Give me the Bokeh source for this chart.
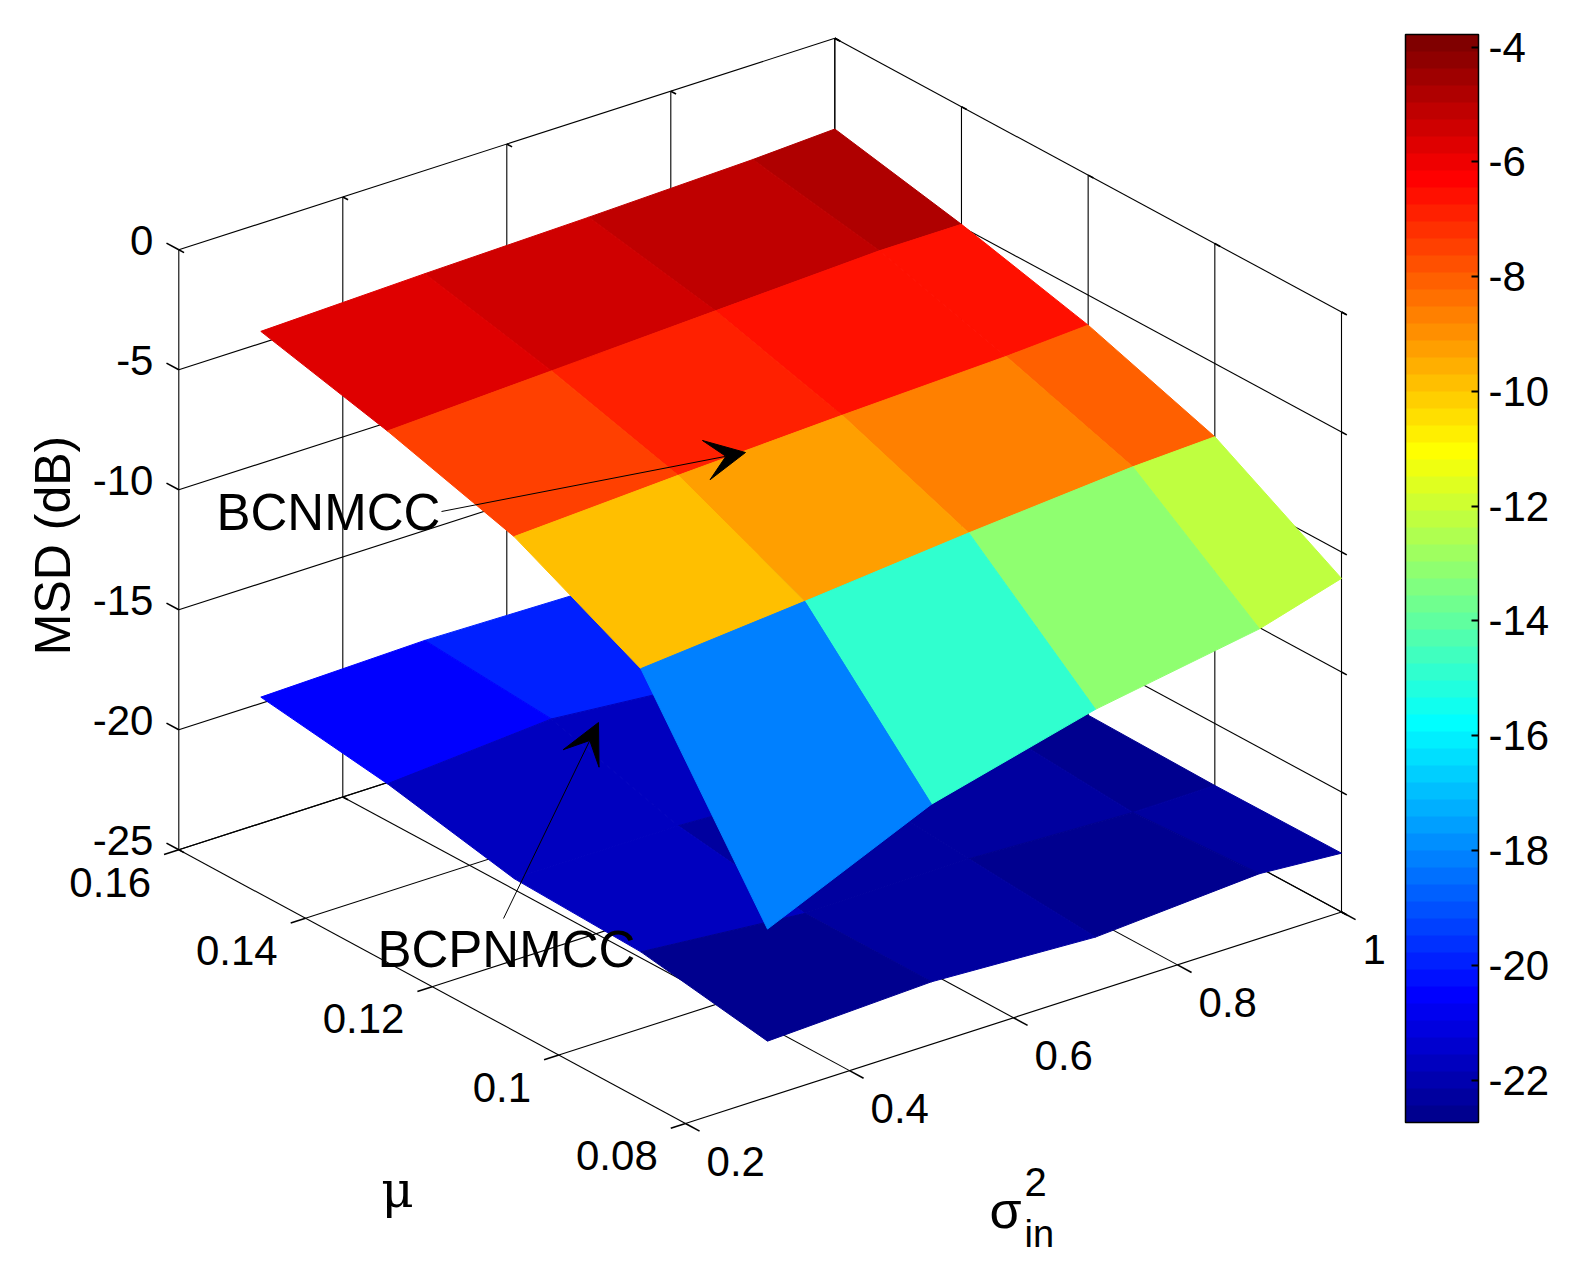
import numpy as np
from bokeh.plotting import figure
from bokeh.models import (Range1d, LinearColorMapper, ColorBar, FixedTicker,
                          Arrow, VeeHead, ColumnDataSource)
from bokeh.embed import file_html
from bokeh.resources import INLINE
from bokeh.core.properties import value

# ---------------- data ----------------
mu_values = [0.08, 0.10, 0.12, 0.14, 0.16]
sigma2_values = [0.3, 0.5, 0.7, 0.9, 1.0]

# rows: mu_values, columns: sigma2_values  (MSD in dB)
msd_bcnmcc = [
    [-18.0, -15.0, -13.25, -12.1, -11.1],
    [-10.0, -9.4, -8.75, -8.2, -8.05],
    [-7.35, -7.0, -6.7, -6.45, -6.25],
    [-5.8, -5.5, -5.2, -4.9, -4.9],
    [-4.5, -4.3, -4.15, -3.95, -3.78],
]
msd_bcpnmcc = [
    [-22.67, -22.4, -22.74, -22.3, -22.55],
    [-21.8, -22.4, -22.33, -22.6, -22.58],
    [-21.6, -21.6, -21.9, -22.2, -22.5],
    [-20.5, -20.0, -20.6, -21.3, -21.9],
    [-19.74, -19.58, -19.7, -20.5, -21.2],
]

mu_ticks = [0.08, 0.10, 0.12, 0.14, 0.16]
mu_tick_labels = ["0.08", "0.1", "0.12", "0.14", "0.16"]
sigma2_ticks = [0.2, 0.4, 0.6, 0.8, 1.0]
sigma2_tick_labels = ["0.2", "0.4", "0.6", "0.8", "1"]
msd_ticks = [-25, -20, -15, -10, -5, 0]
msd_tick_labels = ["-25", "-20", "-15", "-10", "-5", "0"]
colorbar_ticks = [-22, -20, -18, -16, -14, -12, -10, -8, -6, -4]
colorbar_tick_labels = ["-22", "-20", "-18", "-16", "-14", "-12", "-10", "-8", "-6", "-4"]

MU_LIM = (0.08, 0.16)
SG_LIM = (0.2, 1.0)
Z_LIM = (-25.0, 0.0)

# ---------------- view (3D -> 2D projection, screen pixels) ----------------
O = np.array([685.0, 1123.0])        # (mu=0.08, sigma=0.2, z=-25)
V_MU = np.array([-506.7, -273.7])    # full mu span
V_SG = np.array([656.0, -211.5])     # full sigma span
V_Z = np.array([0.0, -600.0])        # full z span


def proj(mu, sg, z):
    a = (np.asarray(mu, float) - MU_LIM[0]) / (MU_LIM[1] - MU_LIM[0])
    b = (np.asarray(sg, float) - SG_LIM[0]) / (SG_LIM[1] - SG_LIM[0])
    c = (np.asarray(z, float) - Z_LIM[0]) / (Z_LIM[1] - Z_LIM[0])
    x = O[0] + a * V_MU[0] + b * V_SG[0] + c * V_Z[0]
    y = O[1] + a * V_MU[1] + b * V_SG[1] + c * V_Z[1]
    return x, y


U_MU = V_MU / np.linalg.norm(V_MU)
U_SG = V_SG / np.linalg.norm(V_SG)


def jet(m):
    n = int(np.ceil(m / 4))
    u = np.concatenate([np.arange(1, n + 1) / n, np.ones(n - 1), np.arange(n, 0, -1) / n])
    g = int(np.ceil(n / 2)) - (1 if m % 4 == 1 else 0) + np.arange(1, len(u) + 1)
    r = g + n
    b = g - n
    J = np.zeros((m, 3))
    for arr, col in ((r, 0), (g, 1), (b, 2)):
        mask = (arr >= 1) & (arr <= m)
        J[arr[mask] - 1, col] = u[mask]
    return ["#%02x%02x%02x" % tuple(int(round(v * 255)) for v in row) for row in J]


FONT = value("Liberation Sans")

p = figure(width=1558, height=1257, x_range=Range1d(0, 1558), y_range=Range1d(1257, 0),
           x_axis_type=None, y_axis_type=None, toolbar_location=None,
           output_backend="svg", min_border=0)
p.outline_line_color = None
p.background_fill_color = "white"
p.border_fill_color = "white"

# ---------------- back walls, floor grid, axes ----------------
gx, gy = [], []


def seg(p0, p1):
    x, y = proj([p0[0], p1[0]], [p0[1], p1[1]], [p0[2], p1[2]])
    gx.append(list(x))
    gy.append(list(y))


for s in sigma2_ticks:   # wall mu = 0.16 (verticals) and floor lines
    seg((MU_LIM[1], s, Z_LIM[0]), (MU_LIM[1], s, Z_LIM[1]))
    seg((MU_LIM[1], s, Z_LIM[0]), (MU_LIM[0], s, Z_LIM[0]))
for m in mu_ticks:       # wall sigma = 1 (verticals) and floor lines
    seg((m, SG_LIM[1], Z_LIM[0]), (m, SG_LIM[1], Z_LIM[1]))
    seg((m, SG_LIM[0], Z_LIM[0]), (m, SG_LIM[1], Z_LIM[0]))
for zt in msd_ticks:     # horizontal lines on both back walls
    seg((MU_LIM[1], SG_LIM[0], zt), (MU_LIM[1], SG_LIM[1], zt))
    seg((MU_LIM[1], SG_LIM[1], zt), (MU_LIM[0], SG_LIM[1], zt))
p.multi_line(gx, gy, line_color="black", line_width=1.1)

# ---------------- ticks ----------------
tx, ty = [], []


def tick(mu, sg, z, direction, length):
    x, y = proj(mu, sg, z)
    ex, ey = x + direction[0] * length, y + direction[1] * length
    tx.append([float(x), float(ex)])
    ty.append([float(y), float(ey)])
    return float(ex), float(ey)


z_lab = [tick(MU_LIM[1], SG_LIM[0], zt, U_MU, 14) for zt in msd_ticks]
mu_lab = [tick(m, SG_LIM[0], Z_LIM[0], -U_SG, 15.5) for m in mu_ticks]
sg_lab = [tick(MU_LIM[0], s, Z_LIM[0], -U_MU, 16) for s in sigma2_ticks]
# small mirrored ticks on the back box edges
for zt in msd_ticks:
    tick(MU_LIM[0], SG_LIM[1], zt, -U_MU, 6)
    tick(MU_LIM[1], SG_LIM[1], zt, -U_MU, 6)
for s in sigma2_ticks:
    tick(MU_LIM[1], s, Z_LIM[1], -U_MU, 6)
    tick(MU_LIM[1], s, Z_LIM[0], -U_MU, 6)
for m in mu_ticks:
    tick(m, SG_LIM[1], Z_LIM[1], -U_MU, 6)
    tick(m, SG_LIM[1], Z_LIM[0], -U_MU, 6)
p.multi_line(tx, ty, line_color="black", line_width=1.6)

# ---------------- surfaces ----------------
all_z = np.array(msd_bcnmcc + msd_bcpnmcc, float)
mapper = LinearColorMapper(palette=jet(64), low=float(all_z.min()), high=float(all_z.max()))

for Z in (msd_bcpnmcc, msd_bcnmcc):      # lower surface first, upper surface on top
    Z = np.array(Z, float)
    faces = []
    for i in range(len(mu_values) - 1):
        for j in range(len(sigma2_values) - 1):
            ms = [mu_values[i], mu_values[i], mu_values[i + 1], mu_values[i + 1]]
            ss = [sigma2_values[j], sigma2_values[j + 1], sigma2_values[j + 1], sigma2_values[j]]
            zs = [Z[i, j], Z[i, j + 1], Z[i + 1, j + 1], Z[i + 1, j]]
            x, y = proj(ms, ss, zs)
            _, depth = proj(np.mean(ms), np.mean(ss), Z_LIM[0])
            faces.append((float(depth), list(x), list(y), float(Z[i, j])))
    faces.sort(key=lambda f: f[0])
    src = ColumnDataSource(dict(xs=[f[1] for f in faces], ys=[f[2] for f in faces],
                                c=[f[3] for f in faces]))
    p.patches("xs", "ys", source=src,
              fill_color={"field": "c", "transform": mapper},
              line_color={"field": "c", "transform": mapper}, line_width=1)

# ---------------- tick labels ----------------
p.text([e[0] - 13 for e in z_lab], [e[1] - 3 for e in z_lab], text=msd_tick_labels,
       text_font=FONT, text_font_size=value("42px"), text_align="right",
       text_baseline="middle", text_color="black")
p.text([e[0] - 13 for e in mu_lab], [e[1] + 27.5 for e in mu_lab], text=mu_tick_labels,
       text_font=FONT, text_font_size=value("42px"), text_align="right",
       text_baseline="middle", text_color="black")
p.text([e[0] + 7 for e in sg_lab], [e[1] + 30 for e in sg_lab], text=sigma2_tick_labels,
       text_font=FONT, text_font_size=value("42px"), text_align="left",
       text_baseline="middle", text_color="black")

# ---------------- axis labels ----------------
p.text([52], [545], text=["MSD (dB)"], angle=np.pi / 2, text_font=FONT,
       text_font_size=value("50px"), text_align="center", text_baseline="middle",
       text_color="black")
p.text([397], [1189], text=["\u03bc"], text_font=value("DejaVu Serif"),
       text_font_size=value("50px"), text_align="center", text_baseline="middle",
       text_color="black")
p.text([989], [1209], text=["\u03c3"], text_font=FONT, text_font_size=value("52px"),
       text_align="left", text_baseline="middle", text_color="black")
p.text([1024], [1181], text=["2"], text_font=FONT, text_font_size=value("40px"),
       text_align="left", text_baseline="middle", text_color="black")
p.text([1024], [1233], text=["in"], text_font=FONT, text_font_size=value("38px"),
       text_align="left", text_baseline="middle", text_color="black")

# ---------------- annotations ----------------
p.text([216], [512], text=["BCNMCC"], text_font=FONT, text_font_size=value("51px"),
       text_align="left", text_baseline="middle", text_color="black")
p.text([377], [949], text=["BCPNMCC"], text_font=FONT, text_font_size=value("51px"),
       text_align="left", text_baseline="middle", text_color="black")
p.add_layout(Arrow(end=VeeHead(size=40, fill_color="black", line_color="black"),
                   x_start=441, y_start=511, x_end=745, y_end=452,
                   line_color="black", line_width=1))
p.add_layout(Arrow(end=VeeHead(size=40, fill_color="black", line_color="black"),
                   x_start=503, y_start=918, x_end=598, y_end=722,
                   line_color="black", line_width=1))

# ---------------- colorbar ----------------
cb = ColorBar(color_mapper=mapper, location=(1405, 135), width=73, height=1088,
              padding=0, margin=0, ticker=FixedTicker(ticks=colorbar_ticks),
              major_label_overrides={float(t): s for t, s in zip(colorbar_ticks, colorbar_tick_labels)},
              major_label_text_font="Liberation Sans",
              major_label_text_font_size="42px", major_label_text_color="black",
              label_standoff=10, major_tick_in=7, major_tick_out=0,
              major_tick_line_color="black", major_tick_line_width=2,
              minor_tick_line_color=None,
              bar_line_color="black", bar_line_width=1.5,
              border_line_color=None, background_fill_color=None)
p.add_layout(cb)

open("out.html", "w").write(file_html(p, INLINE))
